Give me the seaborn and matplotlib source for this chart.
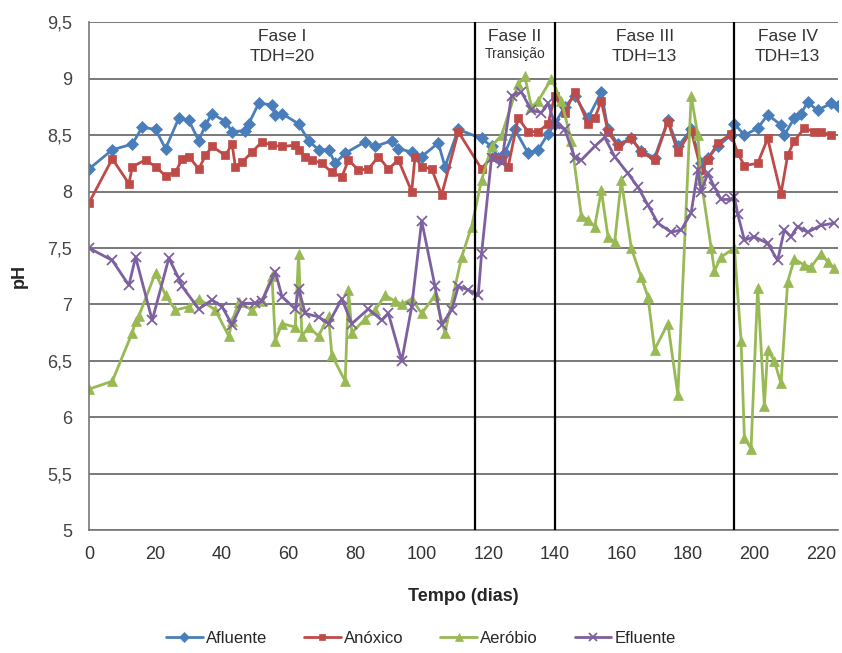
import matplotlib
matplotlib.use("Agg")
import matplotlib.pyplot as plt
from matplotlib.ticker import MultipleLocator, FuncFormatter
import seaborn as sns
import pandas as pd

# pH readings per sampling day for each point of the treatment system
afluente_dias = [0, 7, 13, 16, 20, 23, 27, 30, 33, 35, 37, 41, 43, 47, 48, 51, 55, 56, 58, 63,
                 66, 69, 72, 74, 77, 83, 86, 91, 93, 97, 100, 105, 107, 111, 118, 121, 123, 125,
                 128, 132, 135, 138, 140, 143, 146, 150, 154, 156, 159, 163, 166, 170, 174, 177,
                 181, 184, 186, 189, 193, 194, 197, 201, 204, 208, 209, 212, 214, 216, 219, 223, 225]
afluente_ph = [8.2, 8.37, 8.42, 8.57, 8.55, 8.38, 8.65, 8.63, 8.45, 8.59, 8.69, 8.62, 8.53, 8.54,
               8.6, 8.78, 8.77, 8.68, 8.69, 8.6, 8.45, 8.37, 8.37, 8.25, 8.34, 8.44, 8.4, 8.45,
               8.38, 8.35, 8.31, 8.43, 8.22, 8.55, 8.47, 8.4, 8.3, 8.34, 8.55, 8.34, 8.37, 8.51,
               8.6, 8.75, 8.85, 8.65, 8.88, 8.55, 8.42, 8.47, 8.36, 8.3, 8.63, 8.4, 8.55, 8.25,
               8.3, 8.4, 8.5, 8.6, 8.5, 8.56, 8.68, 8.59, 8.5, 8.65, 8.69, 8.79, 8.72, 8.78, 8.76]

anoxico_dias = [0, 7, 12, 13, 17, 20, 23, 26, 28, 30, 33, 35, 37, 41, 43, 44, 46, 49, 52, 55, 58,
                62, 63, 65, 67, 70, 73, 76, 78, 81, 84, 87, 90, 93, 97, 98, 100, 103, 106, 111,
                118, 121, 124, 126, 129, 132, 135, 138, 140, 143, 146, 150, 152, 154, 156, 159,
                163, 166, 170, 174, 177, 181, 184, 186, 189, 193, 195, 197, 201, 204, 208, 210,
                212, 215, 218, 220, 223]
anoxico_ph = [7.9, 8.29, 8.07, 8.22, 8.28, 8.22, 8.14, 8.17, 8.29, 8.31, 8.2, 8.32, 8.4, 8.32,
              8.42, 8.22, 8.26, 8.35, 8.44, 8.41, 8.4, 8.41, 8.37, 8.31, 8.28, 8.25, 8.17, 8.13,
              8.28, 8.19, 8.2, 8.31, 8.2, 8.28, 8.0, 8.31, 8.22, 8.2, 7.97, 8.53, 8.2, 8.31, 8.28,
              8.22, 8.65, 8.53, 8.53, 8.6, 8.85, 8.7, 8.88, 8.6, 8.65, 8.8, 8.53, 8.4, 8.47, 8.35,
              8.28, 8.62, 8.35, 8.54, 8.19, 8.28, 8.43, 8.51, 8.34, 8.23, 8.25, 8.47, 7.98, 8.32,
              8.45, 8.56, 8.53, 8.53, 8.5]

aerobio_dias = [0, 7, 13, 14, 15, 20, 23, 26, 30, 33, 38, 42, 43, 45, 49, 52, 55, 56, 58, 62, 63,
                64, 66, 69, 72, 73, 77, 78, 79, 83, 86, 89, 92, 94, 97, 100, 104, 107, 112, 115,
                118, 121, 124, 129, 131, 133, 135, 139, 142, 145, 148, 150, 152, 154, 156, 158,
                160, 163, 166, 168, 170, 174, 177, 181, 183, 184, 187, 188, 190, 194, 196, 197,
                199, 201, 203, 204, 206, 208, 210, 212, 215, 217, 220, 222, 224]
aerobio_ph = [6.25, 6.32, 6.75, 6.85, 6.9, 7.28, 7.08, 6.95, 6.98, 7.05, 6.95, 6.72, 6.85, 7.02,
              6.95, 7.03, 7.25, 6.68, 6.83, 6.8, 7.45, 6.72, 6.8, 6.72, 6.9, 6.55, 6.32, 7.13, 6.75,
              6.87, 6.95, 7.08, 7.03, 7.0, 7.05, 6.92, 7.08, 6.75, 7.42, 7.69, 8.1, 8.4, 8.5, 8.95,
              9.02, 8.75, 8.8, 9.0, 8.8, 8.45, 7.78, 7.75, 7.69, 8.01, 7.6, 7.55, 8.1, 7.5, 7.24,
              7.07, 6.6, 6.83, 6.2, 8.85, 8.5, 8.1, 7.5, 7.3, 7.42, 7.5, 6.68, 5.82, 5.72, 7.15,
              6.1, 6.6, 6.5, 6.3, 7.2, 7.4, 7.35, 7.33, 7.45, 7.38, 7.32]

efluente_dias = [0, 7, 12, 14, 19, 24, 27, 28, 33, 37, 40, 43, 46, 50, 52, 56, 58, 62, 63, 65, 69,
                 72, 76, 79, 84, 88, 90, 94, 97, 100, 104, 106, 109, 111, 114, 117, 118, 121, 124,
                 127, 130, 133, 136, 138, 140, 143, 146, 148, 152, 155, 158, 162, 165, 168, 171,
                 175, 178, 181, 183, 184, 186, 188, 190, 193, 194, 195, 197, 200, 204, 207, 209,
                 211, 213, 216, 220, 224]
efluente_ph = [7.5, 7.39, 7.17, 7.42, 6.86, 7.41, 7.23, 7.16, 6.96, 7.04, 6.98, 6.82, 7.01, 7.01,
               7.03, 7.29, 7.07, 6.96, 7.14, 6.92, 6.89, 6.83, 7.05, 6.83, 6.96, 6.86, 6.92, 6.5,
               6.98, 7.74, 7.16, 6.82, 6.95, 7.16, 7.13, 7.08, 7.45, 8.3, 8.25, 8.85, 8.88, 8.72,
               8.7, 8.78, 8.6, 8.55, 8.3, 8.28, 8.4, 8.48, 8.31, 8.16, 8.04, 7.88, 7.72, 7.64, 7.66,
               7.81, 8.19, 8.0, 8.16, 8.04, 7.93, 7.93, 7.95, 7.8, 7.57, 7.6, 7.54, 7.39, 7.66, 7.6,
               7.69, 7.64, 7.7, 7.72]

# Operational phase boundaries (days) and their labels
fase_limites = [116, 140, 194]
fase_titulos = ["Fase I", "Fase II", "Fase III", "Fase IV"]
fase_subtitulos = ["TDH=20", "Transição", "TDH=13", "TDH=13"]
fase_centros = [58, 128, 167, 210]

series = [
    ("Afluente", afluente_dias, afluente_ph, "#4A7EBB", "D", 6),
    ("Anóxico", anoxico_dias, anoxico_ph, "#BE4B48", "s", 6),
    ("Aeróbio", aerobio_dias, aerobio_ph, "#98B954", "^", 7.5),
    ("Efluente", efluente_dias, efluente_ph, "#7D60A0", "x", 7),
]

sns.set_style("white")
plt.rcParams["font.family"] = ["Liberation Sans Narrow", "Liberation Sans", "DejaVu Sans"]

fig = plt.figure(figsize=(8.42, 6.53), dpi=100)
ax = fig.add_axes([0.1057, 0.188, 0.889, 0.778])

handles = []
for nome, dias, ph, cor, mk, ms in series:
    df = pd.DataFrame({"dia": dias, "pH": ph})
    sns.lineplot(data=df, x="dia", y="pH", ax=ax, color=cor, marker=mk, markersize=ms,
                 markeredgecolor=cor, markeredgewidth=1.3 if mk == "x" else 0.5,
                 linewidth=2, sort=False, estimator=None, label=nome, legend=False)
    handles.append(ax.lines[-1])

ax.set_xlim(0, 225)
ax.set_ylim(5, 9.5)
ax.yaxis.set_major_locator(MultipleLocator(0.5))
ax.xaxis.set_major_locator(MultipleLocator(20))
ax.xaxis.set_minor_locator(MultipleLocator(2))
ax.yaxis.set_major_formatter(FuncFormatter(lambda v, p: f"{v:g}".replace(".", ",")))

ax.grid(axis="y", color="#555555", linewidth=1.1)
ax.grid(axis="x", visible=False)
ax.set_axisbelow(True)
for s in ["top", "right"]:
    ax.spines[s].set_visible(False)
for s in ["left", "bottom"]:
    ax.spines[s].set_color("#777777")
    ax.spines[s].set_linewidth(1.2)

ax.tick_params(axis="x", which="major", direction="inout", length=8, width=1, color="#555555",
               labelsize=13, labelcolor="#333333", pad=7)
ax.tick_params(axis="x", which="minor", direction="inout", length=5, width=0.8, color="#555555")
ax.tick_params(axis="y", which="major", direction="out", length=4, width=1, color="#777777",
               labelsize=13, labelcolor="#444444", pad=8)

for x in fase_limites:
    ax.axvline(x, color="black", linewidth=1.6, zorder=5)

for cx, titulo, sub in zip(fase_centros, fase_titulos, fase_subtitulos):
    ax.text(cx, 9.37, titulo, ha="center", va="center", fontsize=12.5, color="#333333")
    if sub == "Transição":
        ax.text(cx, 9.22, sub, ha="center", va="center", fontsize=10, color="#333333")
    else:
        ax.text(cx, 9.2, sub, ha="center", va="center", fontsize=12.5, color="#333333")

ax.set_xlabel("Tempo (dias)", fontsize=13, fontweight="bold", labelpad=18)
ax.set_ylabel("pH", fontsize=13, fontweight="bold", labelpad=14)

fig.legend(handles=handles, labels=[s[0] for s in series], loc="center",
           bbox_to_anchor=(0.5, 0.022), ncol=4, frameon=False, fontsize=12,
           handlelength=2.2, columnspacing=2.2, handletextpad=0.2, markerscale=0.8)

fig.savefig("out.png", dpi=100)
